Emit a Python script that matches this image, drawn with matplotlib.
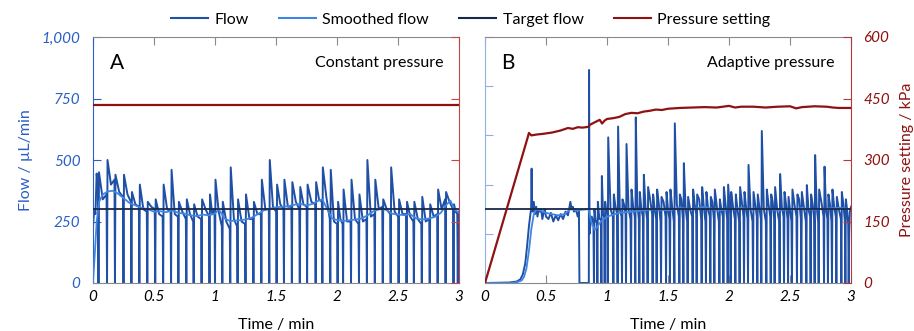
import numpy as np
import matplotlib
matplotlib.use("Agg")
import matplotlib.pyplot as plt
from matplotlib.lines import Line2D

plt.rcParams['font.family'] = ['Lato', 'DejaVu Sans']

# ---- colours
c_flow = "#1f50a6"
c_smooth = "#3f86e4"
c_target = "#17294a"
c_press = "#8e1212"
c_left = "#2b5fc4"
c_gray = "#8a8a8a"

# ---- axis values
x_ticks = [0, 0.5, 1, 1.5, 2, 2.5, 3]
x_labels = ["0", "0.5", "1", "1.5", "2", "2.5", "3"]
flow_ticks = [0, 250, 500, 750, 1000]
flow_labels = ["0", "250", "500", "750", "1,000"]
flow_ticks_b = [0, 200, 400, 600, 800, 1000]
press_ticks = [0, 150, 300, 450, 600]
press_labels = ["0", "150", "300", "450", "600"]
target_flow = 300

# ---- panel A (constant pressure)
pressure_a = 434

flowA_t0 = [0, 0.01, 0.02, 0.03]
flowA_v0 = [230, 300, 280, 445]
flowA_drop = [0.045, 0.115, 0.18, 0.25, 0.315, 0.38, 0.445, 0.51, 0.575, 0.64,
              0.70, 0.765, 0.825, 0.89, 0.955, 1.0, 1.06, 1.125, 1.185, 1.25,
              1.315, 1.38, 1.445, 1.505, 1.565, 1.63, 1.695, 1.755, 1.825, 1.88,
              1.945, 2.005, 2.05, 2.115, 2.18, 2.245, 2.31, 2.375, 2.44, 2.505,
              2.57, 2.63, 2.695, 2.76, 2.825, 2.89, 2.955, 2.99]
flowA_pre = [380, 360, 420, 350, 330, 310, 290, 300, 270, 290,
             270, 260, 250, 260, 270, 300, 230, 220, 230, 240,
             260, 280, 300, 290, 300, 310, 300, 310, 320, 330,
             260, 240, 240, 250, 240, 260, 280, 310, 280, 270,
             280, 250, 240, 260, 280, 340, 300, 280]
flowA_peak = [450, 500, 440, 440, 370, 400, 330, 340, 400, 460,
              330, 340, 320, 340, 360, 420, 330, 470, 340, 360,
              330, 420, 500, 400, 420, 410, 390, 400, 410, 470,
              460, 330, 380, 420, 360, 500, 420, 340, 470, 340,
              330, 330, 350, 320, 380, 370, 320, 290]
flowA_mid = [340, 400, 370, 360, 320, 300, 310, 280, 300, 280,
             290, 280, 270, 300, 280, 290, 250, 260, 250, 260,
             280, 300, 310, 320, 310, 330, 320, 330, 340, 350,
             250, 260, 250, 260, 250, 270, 300, 300, 290, 280,
             270, 260, 250, 270, 300, 330, 290, 285]
flowA_end = 290

smoothA_t = [0, 0.015, 0.03, 0.05, 0.08, 0.12, 0.16, 0.2, 0.25, 0.3, 0.35, 0.4, 0.45,
             0.5, 0.55, 0.6, 0.65, 0.7, 0.75, 0.8, 0.85, 0.9, 0.95, 1.0, 1.03,
             1.08, 1.12, 1.2, 1.25, 1.3, 1.35, 1.4, 1.45, 1.5, 1.55, 1.6, 1.65,
             1.7, 1.75, 1.8, 1.85, 1.88, 1.92, 1.96, 2.0, 2.05, 2.1, 2.15, 2.2,
             2.25, 2.3, 2.35, 2.4, 2.45, 2.5, 2.55, 2.6, 2.65, 2.7, 2.75, 2.8,
             2.85, 2.9, 2.93, 2.96, 3.0]
smoothA_v = [0, 120, 250, 330, 360, 372, 375, 365, 345, 325, 315, 305, 300,
             290, 292, 288, 295, 285, 282, 275, 272, 278, 275, 282, 300,
             262, 252, 255, 258, 265, 280, 295, 302, 308, 310, 312, 318,
             322, 315, 322, 335, 340, 300, 262, 256, 252, 255, 258, 262,
             275, 292, 300, 298, 282, 278, 276, 280, 262, 258, 262, 268,
             285, 320, 335, 300, 285]

# ---- panel B (adaptive pressure)
flowB_t0 = [0, 0.2, 0.26, 0.29, 0.31, 0.33, 0.345, 0.36, 0.372, 0.378, 0.382, 0.386,
            0.39, 0.40, 0.41, 0.42, 0.43, 0.44, 0.45, 0.46, 0.47, 0.48, 0.49, 0.5,
            0.52, 0.54, 0.56, 0.58, 0.6, 0.62, 0.64, 0.66, 0.68, 0.70, 0.71, 0.72,
            0.73, 0.74, 0.75, 0.76, 0.77, 0.774, 0.851, 0.853, 0.857, 0.865, 0.875, 0.885]
flowB_v0 = [0, 2, 6, 15, 35, 80, 150, 230, 280, 300, 465, 320,
            290, 330, 280, 310, 270, 300, 290, 300, 260, 285, 300, 270,
            260, 285, 250, 275, 255, 280, 260, 290, 275, 330, 300, 310,
            290, 300, 290, 270, 290, 0, 0, 866, 200, 240, 270, 250]
flowB_drop = [0.893, 0.921, 0.954, 0.981, 1.006, 1.052, 1.087, 1.123, 1.156, 1.197,
              1.232, 1.265, 1.298, 1.333, 1.374, 1.407, 1.443, 1.484, 1.516, 1.552,
              1.593, 1.626, 1.661, 1.702, 1.735, 1.776, 1.811, 1.847, 1.880, 1.921,
              1.954, 1.989, 2.014, 2.052, 2.087, 2.123, 2.156, 2.197, 2.232, 2.265,
              2.306, 2.342, 2.374, 2.415, 2.451, 2.484, 2.516, 2.557, 2.593, 2.634,
              2.669, 2.702, 2.735, 2.779, 2.811, 2.844, 2.880, 2.921, 2.954, 2.981]
flowB_pre = [230, 250, 260, 270, 280, 270, 280, 270, 280, 260,
             270, 260, 270, 260, 280, 260, 250, 270, 260, 250,
             270, 260, 250, 270, 280, 260, 250, 270, 260, 250,
             270, 260, 280, 260, 250, 270, 260, 250, 270, 260,
             250, 270, 260, 250, 270, 260, 250, 270, 260, 250,
             270, 260, 250, 270, 260, 250, 270, 260, 250, 240]
flowB_peak = [300, 330, 435, 330, 592, 360, 636, 340, 565, 380,
              673, 370, 440, 390, 360, 380, 350, 370, 380, 649,
              360, 487, 350, 380, 360, 390, 370, 350, 380, 340,
              390, 400, 370, 360, 390, 370, 480, 370, 360, 618,
              380, 360, 390, 443, 370, 350, 380, 360, 370, 398,
              360, 520, 380, 473, 360, 380, 350, 370, 340, 200]
flowB_mid = [250, 260, 280, 290, 300, 310, 300, 320, 300, 310,
             320, 300, 310, 340, 300, 320, 330, 300, 310, 320,
             340, 310, 300, 320, 340, 310, 300, 330, 310, 300,
             320, 340, 310, 300, 330, 310, 300, 320, 310, 300,
             320, 330, 300, 310, 320, 300, 320, 340, 310, 300,
             320, 310, 330, 300, 320, 310, 300, 320, 300, 290]
flowB_end = 310

smoothB_t = [0, 0.2, 0.26, 0.3, 0.32, 0.34, 0.36, 0.38, 0.40, 0.42, 0.45, 0.5, 0.55,
             0.6, 0.65, 0.7, 0.75, 0.8, 0.85, 0.87, 0.9, 0.95, 1.0, 1.1, 1.2, 1.3,
             1.4, 1.5, 1.6, 1.7, 1.8, 1.9, 2.0, 2.1, 2.2, 2.3, 2.4, 2.5, 2.6, 2.7,
             2.8, 2.9, 3.0]
smoothB_v = [0, 0, 3, 10, 25, 60, 130, 220, 280, 300, 295, 285, 280,
             275, 280, 300, 295, 298, 300, 250, 215, 250, 270, 285, 290, 295,
             300, 295, 305, 300, 310, 295, 300, 305, 298, 302, 296, 300, 305, 298,
             302, 306, 300]

pressB_t = [0, 0.35, 0.36, 0.38, 0.42, 0.48, 0.55, 0.62, 0.68, 0.72, 0.76, 0.8, 0.85,
            0.86, 0.9, 0.94, 0.96, 0.98, 1.0, 1.05, 1.1, 1.15, 1.2, 1.25, 1.3, 1.35,
            1.4, 1.45, 1.5, 1.6, 1.7, 1.8, 1.9, 2.0, 2.05, 2.1, 2.2, 2.3, 2.4, 2.5,
            2.55, 2.6, 2.7, 2.8, 2.85, 2.9, 3.0]
pressB_v = [0, 355, 366, 360, 362, 364, 367, 372, 378, 376, 380, 379, 381,
            386, 392, 398, 389, 396, 400, 402, 405, 412, 415, 414, 418, 420,
            423, 422, 425, 427, 428, 429, 428, 432, 428, 430, 430, 428, 430, 431,
            426, 429, 431, 430, 428, 427, 427]


def flow_series(t0, v0, drop_t, pre, peak, mid, end_v, t_end=3.0):
    # join the read start section with the dropout events (pre -> 0 -> rebound -> mid)
    t = list(t0)
    v = list(v0)
    for i, td in enumerate(drop_t):
        nxt = drop_t[i + 1] if i + 1 < len(drop_t) else t_end
        t += [td - 0.004, td, td + 0.004, (td + nxt) / 2]
        v += [pre[i], 0, peak[i], mid[i]]
    t.append(t_end)
    v.append(end_v)
    return np.array(t), np.array(v)


def style_axes(ax, twin, left_color, right_color, left_ticks, show_left, show_right):
    ax.set_xlim(0, 3)
    ax.set_ylim(0, 1000)
    twin.set_ylim(0, 600)
    for s in ["top", "bottom"]:
        ax.spines[s].set_color(c_gray)
    ax.spines["left"].set_color(left_color)
    ax.spines["right"].set_visible(False)
    for s in ["left", "top", "bottom"]:
        twin.spines[s].set_visible(False)
    twin.spines["right"].set_color(right_color)

    ax.set_xticks(x_ticks)
    ax.set_xticklabels(x_labels, fontstyle="italic", fontsize=11)
    ax.tick_params(axis="x", direction="in", top=True, bottom=True, color=c_gray,
                   length=6, pad=5)
    ax.set_yticks(left_ticks)
    ax.tick_params(axis="y", direction="in", left=True, right=False, color=left_color,
                   length=6, labelcolor=c_left, labelleft=show_left, pad=9)
    if show_left:
        ax.set_yticklabels(flow_labels, fontstyle="italic", fontsize=11)
    twin.set_yticks(press_ticks)
    twin.tick_params(axis="y", direction="in", right=True, color=right_color, length=6,
                     labelcolor=c_press, labelright=show_right, pad=9)
    if show_right:
        twin.set_yticklabels(press_labels, fontstyle="italic", fontsize=11)
    ax.set_xlabel("Time / min", fontsize=11.5, labelpad=10)


fig = plt.figure(figsize=(9.14, 3.31), dpi=100)
axA = fig.add_axes([93 / 914, 48 / 331, 366 / 914, 246 / 331])
axB = fig.add_axes([485 / 914, 48 / 331, 366 / 914, 246 / 331])
twA = axA.twinx()
twB = axB.twinx()

# panel A
tA, vA = flow_series(flowA_t0, flowA_v0, flowA_drop, flowA_pre, flowA_peak, flowA_mid, flowA_end)
axA.plot(tA, vA, color=c_flow, lw=1.4, zorder=2)
axA.plot(smoothA_t, smoothA_v, color=c_smooth, lw=1.3, zorder=3)
axA.axhline(target_flow, color=c_target, lw=1.3, zorder=4)
twA.plot([0, 3], [pressure_a, pressure_a], color=c_press, lw=1.6)
style_axes(axA, twA, c_left, "#c04848", flow_ticks, True, False)
axA.set_ylabel("Flow / µL/min", color=c_left, fontsize=11.5, labelpad=6)
axA.text(0.045, 0.895, "A", transform=axA.transAxes, fontsize=15, va="center", ha="left")
axA.text(0.958, 0.895, "Constant pressure", transform=axA.transAxes, fontsize=11.5,
         va="center", ha="right")

# panel B
tB, vB = flow_series(flowB_t0, flowB_v0, flowB_drop, flowB_pre, flowB_peak, flowB_mid, flowB_end)
axB.plot(tB, vB, color=c_flow, lw=1.4, zorder=2)
axB.plot(smoothB_t, smoothB_v, color=c_smooth, lw=1.3, zorder=3)
axB.axhline(target_flow, color=c_target, lw=1.3, zorder=4)
twB.plot(pressB_t, pressB_v, color=c_press, lw=1.6)
style_axes(axB, twB, "#8fb0e2", "#b03a3a", flow_ticks_b, False, True)
twB.set_ylabel("Pressure setting / kPa", color=c_press, fontsize=11.5)
twB.yaxis.set_label_coords(1.133, 0.5)
axB.text(0.045, 0.895, "B", transform=axB.transAxes, fontsize=15, va="center", ha="left")
axB.text(0.955, 0.895, "Adaptive pressure", transform=axB.transAxes, fontsize=11.5,
         va="center", ha="right")

handles = [Line2D([], [], color=c_flow, lw=1.5),
           Line2D([], [], color=c_smooth, lw=1.5),
           Line2D([], [], color=c_target, lw=1.5),
           Line2D([], [], color=c_press, lw=1.5)]
fig.legend(handles, ["Flow", "Smoothed flow", "Target flow", "Pressure setting"],
           loc="center", bbox_to_anchor=(0.515, 0.94), ncol=4, frameon=False,
           fontsize=11.5, handlelength=2.3, columnspacing=1.9, handletextpad=0.4)

fig.savefig("out.png", dpi=100)
